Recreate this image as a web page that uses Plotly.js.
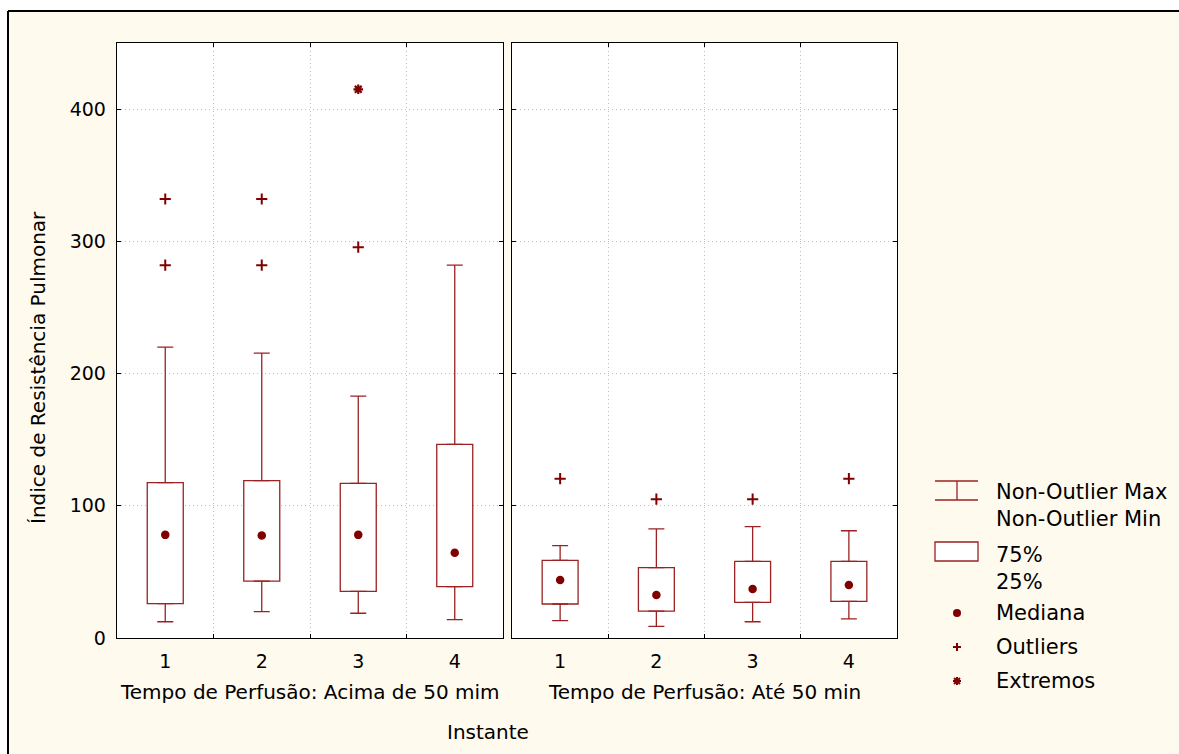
<!DOCTYPE html>
<html>
<head>
<meta charset="utf-8">
<script src="https://cdn.plot.ly/plotly-3.0.1.min.js"></script>
<style>html,body{margin:0;padding:0;background:#fff;}</style>
</head>
<body>
<div id="chart" style="width:1179px;height:754px;"></div>
<script>
// ---------- data ----------
const categories = ['1', '2', '3', '4'];

// Panel 1: Tempo de Perfusão: Acima de 50 mim
const acimaQ1     = [26, 43, 35.3, 38.8];
const acimaMedian = [78, 77.6, 78, 64.5];
const acimaQ3     = [117.5, 119, 117, 146.5];
const acimaMin    = [12.3, 20, 18.7, 13.9];
const acimaMax    = [220, 215.5, 183, 282];
const acimaOutlierX = ['1', '1', '2', '2', '3'];
const acimaOutlierY = [332, 282, 332, 282, 295.6];
const acimaExtremeX = ['3'];
const acimaExtremeY = [415];

// Panel 2: Tempo de Perfusão: Até 50 min
const ateQ1     = [25.7, 20.4, 27, 27.7];
const ateMedian = [43.9, 32.5, 37, 40];
const ateQ3     = [58.7, 53.2, 58, 58];
const ateMin    = [13.1, 8.8, 12.3, 14.4];
const ateMax    = [69.8, 82.6, 84.2, 81.1];
const ateOutlierX = ['1', '2', '3', '4'];
const ateOutlierY = [120.5, 105, 105, 120.5];
const ateExtremeX = [];
const ateExtremeY = [];

const panelTitles = ['Tempo de Perfusão: Acima de 50 mim', 'Tempo de Perfusão: Até 50 min'];
const xTitle = 'Instante';
const yTitle = 'Índice de Resistência Pulmonar';
const yTicks = [0, 100, 200, 300, 400];
const legendLabels = ['Non-Outlier Max', 'Non-Outlier Min', '75%', '25%', 'Mediana', 'Outliers', 'Extremos'];

// ---------- style ----------
const W = 1179, H = 754;
const FONT = 'DejaVu Sans, Arial, sans-serif';
const boxColor = '#9A2222';
const markColor = '#800000';
const cream = '#FFFAEE';
const gridColor = '#BDBDBD';

function panelTraces(xa, ya, q1, med, q3, mn, mx, ox, oy, ex, ey) {
  const zeros = q1.map(() => 0);
  return [
    { type: 'bar', x: categories, base: q1, y: q3.map((v, i) => v - q1[i]),
      width: 0.373, xaxis: xa, yaxis: ya, hoverinfo: 'skip', showlegend: false,
      marker: { color: '#ffffff', line: { color: boxColor, width: 1.3 } } },
    { type: 'scatter', mode: 'markers', x: categories, y: q3, xaxis: xa, yaxis: ya,
      hoverinfo: 'skip', showlegend: false, marker: { size: 1, opacity: 0 },
      error_y: { type: 'data', symmetric: false, array: mx.map((v, i) => v - q3[i]), arrayminus: zeros,
                 width: 8, thickness: 1.3, color: boxColor } },
    { type: 'scatter', mode: 'markers', x: categories, y: q1, xaxis: xa, yaxis: ya,
      hoverinfo: 'skip', showlegend: false, marker: { size: 1, opacity: 0 },
      error_y: { type: 'data', symmetric: false, array: zeros, arrayminus: q1.map((v, i) => v - mn[i]),
                 width: 8, thickness: 1.3, color: boxColor } },
    { type: 'scatter', mode: 'markers', x: categories, y: med, xaxis: xa, yaxis: ya,
      showlegend: false, marker: { symbol: 'circle', size: 8.5, color: markColor } },
    { type: 'scatter', mode: 'markers', x: ox, y: oy, xaxis: xa, yaxis: ya, showlegend: false,
      marker: { symbol: 'cross-thin-open', size: 8, color: markColor, line: { width: 2, color: markColor } } },
    { type: 'scatter', mode: 'markers', x: ex, y: ey, xaxis: xa, yaxis: ya, showlegend: false,
      marker: { symbol: 'asterisk-open', size: 8, color: markColor, line: { width: 2.2, color: markColor } } }
  ];
}

const traces = [
  ...panelTraces('x', 'y', acimaQ1, acimaMedian, acimaQ3, acimaMin, acimaMax, acimaOutlierX, acimaOutlierY, acimaExtremeX, acimaExtremeY),
  ...panelTraces('x2', 'y2', ateQ1, ateMedian, ateQ3, ateMin, ateMax, ateOutlierX, ateOutlierY, ateExtremeX, ateExtremeY)
];

const px = v => v / W;
const py = v => 1 - v / H;

function xAxis(d0, d1, anchor) {
  return {
    domain: [px(d0), px(d1)], anchor: anchor, type: 'category', range: [-0.5, 3.5],
    categoryorder: 'array', categoryarray: categories,
    tickson: 'boundaries', ticks: 'inside', ticklen: 4, tickcolor: '#000', tickwidth: 1,
    showgrid: true, gridcolor: gridColor, griddash: '1px,3px', gridwidth: 1,
    showline: true, linecolor: '#000', linewidth: 1.3, mirror: 'ticks', zeroline: false,
    tickfont: { family: FONT, size: 19, color: '#000' }, ticklabelstandoff: 6, fixedrange: true
  };
}
function yAxis(anchor, labels) {
  return {
    domain: [1 - 638 / H, 1 - 43 / H], anchor: anchor, range: [0, 450],
    tickmode: 'array', tickvals: yTicks, showticklabels: labels,
    ticks: 'inside', ticklen: 4, tickcolor: '#000', tickwidth: 1,
    showgrid: true, gridcolor: gridColor, griddash: '1px,3px', gridwidth: 1,
    showline: true, linecolor: '#000', linewidth: 1.3, mirror: 'ticks', zeroline: false,
    tickfont: { family: FONT, size: 19, color: '#000' }, ticklabelstandoff: 6, fixedrange: true
  };
}

const shapes = [
  // white outside of the frame
  { type: 'rect', xref: 'paper', yref: 'paper', x0: 0, x1: px(8), y0: -0.1, y1: 1.1, fillcolor: '#fff', line: { width: 0 }, layer: 'below' },
  { type: 'rect', xref: 'paper', yref: 'paper', x0: 0, x1: 1.1, y0: py(11), y1: 1.1, fillcolor: '#fff', line: { width: 0 }, layer: 'below' },
  // frame lines
  { type: 'line', xref: 'paper', yref: 'paper', x0: px(8), x1: px(8), y0: -0.1, y1: py(11), line: { color: '#000', width: 2 } },
  { type: 'line', xref: 'paper', yref: 'paper', x0: px(8), x1: 1.1, y0: py(11), y1: py(11), line: { color: '#000', width: 2 } },
  // legend: whisker icon
  { type: 'line', xref: 'paper', yref: 'paper', x0: px(935), x1: px(978), y0: py(481), y1: py(481), line: { color: boxColor, width: 1.3 } },
  { type: 'line', xref: 'paper', yref: 'paper', x0: px(935), x1: px(978), y0: py(500), y1: py(500), line: { color: boxColor, width: 1.3 } },
  { type: 'line', xref: 'paper', yref: 'paper', x0: px(957), x1: px(957), y0: py(481), y1: py(500), line: { color: boxColor, width: 1.3 } },
  // legend: box icon
  { type: 'rect', xref: 'paper', yref: 'paper', x0: px(935), x1: px(978), y0: py(561), y1: py(542), fillcolor: '#fff', line: { color: boxColor, width: 1.3 } },
  // legend: median dot
  { type: 'circle', xref: 'paper', yref: 'paper', x0: px(953), x1: px(961), y0: py(617), y1: py(609), fillcolor: markColor, line: { color: markColor, width: 0 } },
  // legend: outlier plus
  { type: 'line', xref: 'paper', yref: 'paper', x0: px(953), x1: px(961), y0: py(647), y1: py(647), line: { color: markColor, width: 2 } },
  { type: 'line', xref: 'paper', yref: 'paper', x0: px(957), x1: px(957), y0: py(643), y1: py(651), line: { color: markColor, width: 2 } },
  // legend: extreme asterisk
  { type: 'line', xref: 'paper', yref: 'paper', x0: px(953), x1: px(961), y0: py(681), y1: py(681), line: { color: markColor, width: 2 } },
  { type: 'line', xref: 'paper', yref: 'paper', x0: px(957), x1: px(957), y0: py(677), y1: py(685), line: { color: markColor, width: 2 } },
  { type: 'line', xref: 'paper', yref: 'paper', x0: px(954), x1: px(960), y0: py(678), y1: py(684), line: { color: markColor, width: 2 } },
  { type: 'line', xref: 'paper', yref: 'paper', x0: px(954), x1: px(960), y0: py(684), y1: py(678), line: { color: markColor, width: 2 } }
];

function ann(text, x, y, size, opts) {
  return Object.assign({ text: text, xref: 'paper', yref: 'paper', x: px(x), y: py(y), showarrow: false,
    xanchor: 'center', yanchor: 'middle', font: { family: FONT, size: size, color: '#000' } }, opts || {});
}

const legendY = [492, 519, 555, 582, 613, 647, 681];
const annotations = [
  ann(panelTitles[0], 310, 692, 20),
  ann(panelTitles[1], 704.5, 692, 20),
  ann(xTitle, 488, 732, 20),
  ann(yTitle, 38, 368, 20, { textangle: -90 }),
  ...legendLabels.map((t, i) => ann(t, 994, legendY[i], 21, { xanchor: 'left' }))
];

const layout = {
  width: W, height: H, autosize: false,
  margin: { l: 0, r: 0, t: 0, b: 0, pad: 0 },
  paper_bgcolor: cream, plot_bgcolor: '#ffffff',
  showlegend: false, hovermode: false, bargap: 0,
  font: { family: FONT, size: 19, color: '#000' },
  xaxis: xAxis(117, 503, 'y'),
  yaxis: yAxis('x', true),
  xaxis2: xAxis(512, 897, 'y2'),
  yaxis2: Object.assign(yAxis('x2', false), { matches: 'y' }),
  shapes: shapes,
  annotations: annotations
};

Plotly.newPlot('chart', traces, layout, { displayModeBar: false, staticPlot: true });
</script>
</body>
</html>
